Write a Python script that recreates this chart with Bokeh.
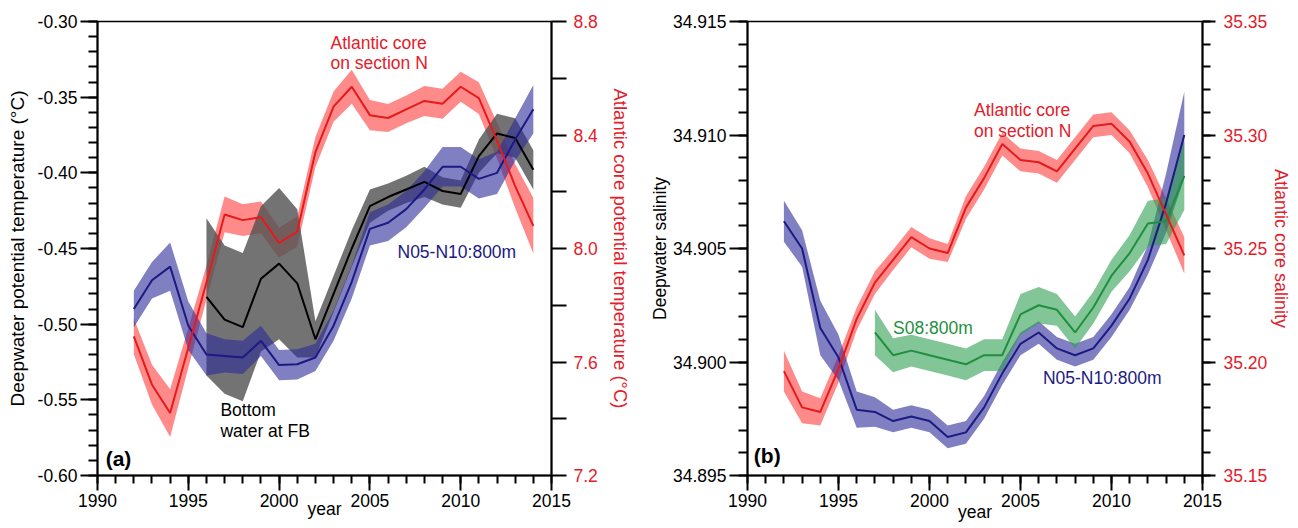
from bokeh.plotting import figure
from bokeh.models import Range1d, LinearAxis, FixedTicker, PrintfTickFormatter, Label, ColumnDataSource
from bokeh.layouts import row
from bokeh.embed import file_html
from bokeh.resources import INLINE

FONT = "Liberation Sans"
FS = "17.5px"
RED = "#e41a1c"
RED_TXT = "#e3202a"
NAVY = "#1c1a82"
GREEN = "#1f8f3f"

# ---------------- panel (a) data ----------------
years_a = list(range(1992, 2015))
atl_temp = [7.69, 7.52, 7.42, 7.65, 7.88, 8.12, 8.10, 8.11, 8.02, 8.06, 8.34, 8.50,
            8.57, 8.47, 8.46, 8.49, 8.52, 8.51, 8.57, 8.53, 8.38, 8.22, 8.08]
atl_temp_err = [0.063, 0.070, 0.084, 0.070, 0.060, 0.063, 0.056, 0.056, 0.053, 0.053, 0.053, 0.053,
                0.060, 0.053, 0.049, 0.049, 0.053, 0.053, 0.053, 0.056, 0.063, 0.077, 0.098]
n05_temp = [-0.490, -0.471, -0.462, -0.501, -0.520, -0.521, -0.522, -0.511, -0.527, -0.5265, -0.522, -0.501,
            -0.472, -0.437, -0.433, -0.424, -0.411, -0.396, -0.396, -0.404, -0.400, -0.378, -0.358]
n05_temp_err = [0.012, 0.012, 0.016, 0.016, 0.014, 0.011, 0.011, 0.010, 0.010, 0.010, 0.009, 0.010,
                0.011, 0.011, 0.012, 0.012, 0.012, 0.013, 0.013, 0.013, 0.014, 0.014, 0.016]
years_fb = list(range(1996, 2015))
fb_temp = [-0.482, -0.497, -0.502, -0.470, -0.460, -0.473, -0.510, -0.480, -0.450, -0.422,
           -0.416, -0.411, -0.406, -0.412, -0.414, -0.389, -0.374, -0.377, -0.398]
fb_temp_err = [0.052, 0.049, 0.049, 0.048, 0.050, 0.049, 0.012, 0.012, 0.012, 0.011,
               0.009, 0.009, 0.010, 0.009, 0.009, 0.011, 0.013, 0.013, 0.013]

# ---------------- panel (b) data ----------------
years_b = list(range(1992, 2015))
atl_sal = [35.196, 35.180, 35.178, 35.197, 35.219, 35.235, 35.245, 35.255, 35.250, 35.248, 35.268, 35.281,
           35.296, 35.289, 35.288, 35.284, 35.294, 35.304, 35.305, 35.297, 35.283, 35.265, 35.247]
atl_sal_err = [0.009, 0.007, 0.006, 0.006, 0.005, 0.005, 0.0045, 0.0045, 0.0045, 0.004, 0.005, 0.005,
               0.005, 0.005, 0.005, 0.005, 0.005, 0.005, 0.005, 0.005, 0.006, 0.007, 0.008]
n05_sal = [34.9062, 34.9050, 34.9015, 34.9002, 34.8979, 34.8978, 34.8974, 34.8976, 34.8974, 34.8967, 34.8969, 34.8980,
           34.8995, 34.9008, 34.9013, 34.9006, 34.9003, 34.9006, 34.9016, 34.9028, 34.9045, 34.9070, 34.9100]
n05_sal_err = [0.0009, 0.0008, 0.0012, 0.0010, 0.0008, 0.00065, 0.0005, 0.0005, 0.0005, 0.0005, 0.0005, 0.0005,
               0.0005, 0.0005, 0.0005, 0.0005, 0.0005, 0.0005, 0.0005, 0.0005, 0.00065, 0.0013, 0.0019]
years_s08 = list(range(1997, 2015))
s08_sal = [34.9013, 34.9003, 34.9005, 34.9003, 34.9001, 34.8999, 34.9003, 34.9003, 34.9021,
           34.9025, 34.9023, 34.9013, 34.9024, 34.9038, 34.9048, 34.9061, 34.9062, 34.9082]
s08_sal_err = [0.0010, 0.00075, 0.0007, 0.0007, 0.0007, 0.0007, 0.0007, 0.0007, 0.0009,
               0.0008, 0.0007, 0.0007, 0.0007, 0.0007, 0.0008, 0.0010, 0.0010, 0.0015]

year_ticks = [1990, 1995, 2000, 2005, 2010, 2015]
year_minor = list(range(1990, 2016))


def band_source(xs, ys, errs):
    return ColumnDataSource(dict(x=xs, y=ys,
                                 lo=[v - e for v, e in zip(ys, errs)],
                                 hi=[v + e for v, e in zip(ys, errs)]))


def style_axis(ax, color="black", label_color="black", label_size=FS):
    ax.axis_line_color = "black"
    ax.axis_line_width = 2
    ax.major_tick_line_color = "black"
    ax.minor_tick_line_color = "black"
    ax.major_tick_line_width = 2
    ax.minor_tick_line_width = 2
    ax.major_tick_in = 0
    ax.minor_tick_in = 0
    ax.major_label_text_font = FONT
    ax.major_label_text_font_size = FS
    ax.major_label_text_color = color
    ax.axis_label_text_font = FONT
    ax.axis_label_text_font_size = label_size
    ax.axis_label_text_font_style = "normal"
    ax.axis_label_text_color = label_color


def make_fig(width, mbl, mbr, mbt, mbb, y0, y1):
    p = figure(width=width, height=528, x_range=Range1d(1990, 2015), y_range=Range1d(y0, y1),
               output_backend="svg", toolbar_location=None,
               min_border_left=mbl, min_border_right=mbr, min_border_top=mbt, min_border_bottom=mbb)
    p.xgrid.grid_line_color = None
    p.ygrid.grid_line_color = None
    p.outline_line_color = "black"
    p.outline_line_width = 1.5
    p.background_fill_color = "white"
    p.border_fill_color = "white"
    xa = p.xaxis[0]
    style_axis(xa)
    xa.ticker = FixedTicker(ticks=year_ticks, minor_ticks=year_minor)
    xa.formatter = PrintfTickFormatter(format="%d")
    xa.major_tick_out = 15
    xa.minor_tick_out = 8
    xa.major_label_standoff = 3
    xa.axis_label = "year"
    return p


def add_label(p, text, x, y, color, bold=False, size=FS, y_range_name="default"):
    p.add_layout(Label(x=x, y=y, text=text, text_font=FONT, text_font_size=size,
                       text_color=color, text_align="left", text_baseline="middle",
                       text_font_style="bold" if bold else "normal",
                       y_range_name=y_range_name))


# ================= panel (a) =================
pa = make_fig(646, 97, 95, 21, 50, -0.60, -0.30)
pa.xaxis[0].axis_label_standoff = -11
ya = pa.yaxis[0]
style_axis(ya, label_size="19px")
ya.ticker = FixedTicker(ticks=[-0.60, -0.55, -0.50, -0.45, -0.40, -0.35, -0.30],
                        minor_ticks=[round(-0.60 + 0.01 * i, 2) for i in range(31)])
ya.formatter = PrintfTickFormatter(format="%.2f")
ya.major_tick_out = 17
ya.minor_tick_out = 9
ya.major_label_standoff = 3
ya.axis_label_standoff = 7
ya.axis_label = "Deepwater potential temperature (°C)"

pa.extra_y_ranges = {"r": Range1d(7.2, 8.8)}
ra = LinearAxis(y_range_name="r")
style_axis(ra, color=RED_TXT, label_color=RED_TXT, label_size="18.5px")
ra.ticker = FixedTicker(ticks=[7.2, 7.6, 8.0, 8.4, 8.8], minor_ticks=[7.4, 7.8, 8.2, 8.6])
ra.formatter = PrintfTickFormatter(format="%.1f")
ra.major_tick_out = 15
ra.minor_tick_out = 15
ra.major_label_standoff = 7
ra.axis_label_standoff = 9
ra.axis_label = "Atlantic core potential temperature (°C)"
pa.add_layout(ra, "right")

s_atl_t = band_source(years_a, atl_temp, atl_temp_err)
s_fb_t = band_source(years_fb, fb_temp, fb_temp_err)
s_n05_t = band_source(years_a, n05_temp, n05_temp_err)

pa.varea(x="x", y1="lo", y2="hi", source=s_atl_t, fill_color="#ff2a2a", fill_alpha=0.55, y_range_name="r")
pa.varea(x="x", y1="lo", y2="hi", source=s_fb_t, fill_color="#505050", fill_alpha=0.8)
pa.varea(x="x", y1="lo", y2="hi", source=s_n05_t, fill_color="#2a2a9a", fill_alpha=0.6)
pa.line(x="x", y="y", source=s_fb_t, line_color="black", line_width=2)
pa.line(x="x", y="y", source=s_n05_t, line_color=NAVY, line_width=2)
pa.line(x="x", y="y", source=s_atl_t, line_color=RED, line_width=2, y_range_name="r")

add_label(pa, "Atlantic core", 2002.83, -0.3144, RED_TXT)
add_label(pa, "on section N", 2002.83, -0.3276, RED_TXT)
add_label(pa, "N05-N10:800m", 2006.52, -0.4523, NAVY)
add_label(pa, "Bottom", 1996.77, -0.5567, "black")
add_label(pa, "water at FB", 1996.77, -0.5705, "black")
add_label(pa, "(a)", 1990.45, -0.5885, "black", bold=True, size="21px")

# ================= panel (b) =================
pb = make_fig(652, 100, 96, 18, 53, 34.895, 34.915)
pb.xaxis[0].axis_label_standoff = -8
yb = pb.yaxis[0]
style_axis(yb)
yb.ticker = FixedTicker(ticks=[34.895, 34.900, 34.905, 34.910, 34.915],
                        minor_ticks=[round(34.895 + 0.001 * i, 3) for i in range(21)])
yb.formatter = PrintfTickFormatter(format="%.3f")
yb.major_tick_out = 18
yb.minor_tick_out = 9
yb.major_label_standoff = 3
yb.axis_label_standoff = 0
yb.axis_label = "Deepwater salinity"

pb.extra_y_ranges = {"r": Range1d(35.15, 35.35)}
rb = LinearAxis(y_range_name="r")
style_axis(rb, color=RED_TXT, label_color=RED_TXT, label_size="18px")
rb.ticker = FixedTicker(ticks=[35.15, 35.20, 35.25, 35.30, 35.35],
                        minor_ticks=[round(35.15 + 0.01 * i, 2) for i in range(21)])
rb.formatter = PrintfTickFormatter(format="%.2f")
rb.major_tick_out = 13
rb.minor_tick_out = 8
rb.major_label_standoff = 8
rb.axis_label_standoff = 1
rb.axis_label = "Atlantic core salinity"
pb.add_layout(rb, "right")

s_atl_s = band_source(years_b, atl_sal, atl_sal_err)
s_n05_s = band_source(years_b, n05_sal, n05_sal_err)
s_s08_s = band_source(years_s08, s08_sal, s08_sal_err)

pb.varea(x="x", y1="lo", y2="hi", source=s_atl_s, fill_color="#ff2a2a", fill_alpha=0.55, y_range_name="r")
pb.varea(x="x", y1="lo", y2="hi", source=s_n05_s, fill_color="#2a2a9a", fill_alpha=0.6)
pb.varea(x="x", y1="lo", y2="hi", source=s_s08_s, fill_color="#2e9e50", fill_alpha=0.6)
pb.line(x="x", y="y", source=s_n05_s, line_color=NAVY, line_width=2)
pb.line(x="x", y="y", source=s_s08_s, line_color=GREEN, line_width=2)
pb.line(x="x", y="y", source=s_atl_s, line_color=RED, line_width=2, y_range_name="r")

add_label(pb, "Atlantic core", 2002.445, 34.91110, RED_TXT)
add_label(pb, "on section N", 2002.445, 34.91019, RED_TXT)
add_label(pb, "S08:800m", 1998.0, 34.90148, GREEN)
add_label(pb, "N05-N10:800m", 2006.23, 34.89929, NAVY)
add_label(pb, "(b)", 1990.35, 34.8959, "black", bold=True, size="21px")

layout = row(pa, pb)
open("out.html", "w").write(file_html(layout, INLINE))
